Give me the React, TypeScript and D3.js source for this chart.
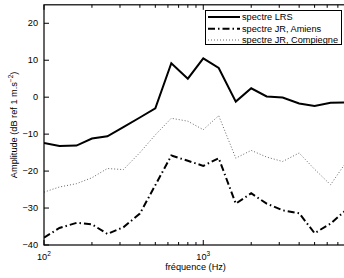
import { useEffect, useRef } from 'react';
import * as d3 from 'd3';

const freqs = [100, 125, 160, 200, 250, 315, 400, 500, 630, 800, 1000, 1250, 1600, 2000, 2500, 3150, 4000, 5000, 6300, 8000];
const lrs = [-12.4, -13.2, -13.1, -11.2, -10.6, -8.1, -5.5, -3.0, 9.2, 5.0, 10.5, 7.9, -1.2, 2.4, 0.2, -0.1, -1.7, -2.4, -1.5, -1.4];
const amiens = [-38.0, -35.4, -34.0, -34.4, -37.0, -35.2, -31.5, -23.8, -15.8, -17.2, -18.6, -16.5, -28.8, -26.0, -28.8, -30.6, -31.4, -36.8, -34.2, -30.3];
const compiegne = [-25.7, -24.3, -23.4, -21.8, -19.3, -19.6, -15.0, -10.2, -5.7, -6.5, -8.8, -5.0, -16.5, -14.4, -16.2, -17.4, -15.1, -19.5, -23.7, -17.2];
const yTicks = [-40, -30, -20, -10, 0, 10, 20];
const xMajor = [100, 1000];
const legendLabels = ['spectre LRS', 'spectre JR, Amiens', 'spectre JR, Compiegne'];

const FONT = '"Liberation Sans", Arial, Helvetica, sans-serif';
const FS = 9.2;

export default function App() {
  const svgRef = useRef<SVGSVGElement>(null);

  useEffect(() => {
    if (!svgRef.current) return;
    const svg = d3.select(svgRef.current);
    svg.selectAll('*').remove();

    const L = 44, T = 4.8, B = 245, R = 347.1;
    const x = d3.scaleLog().domain([100, 8000]).range([L, R]);
    const y = d3.scaleLinear().domain([-40, 25]).range([B, T]);

    svg.append('defs').append('clipPath').attr('id', 'plotClip')
      .append('rect').attr('x', L).attr('y', T).attr('width', R - L).attr('height', B - T);

    const series = [
      { vals: lrs, stroke: '#000', w: 2, dash: null as string | null },
      { vals: amiens, stroke: '#000', w: 2, dash: '7,3,1.5,3' },
      { vals: compiegne, stroke: '#666', w: 1, dash: '1,2' },
    ];

    const line = d3.line<number>().x((_, i) => x(freqs[i])).y((d) => y(d));
    const plot = svg.append('g').attr('clip-path', 'url(#plotClip)');
    series.forEach((s) => {
      plot.append('path').datum(s.vals).attr('d', line)
        .attr('fill', 'none').attr('stroke', s.stroke).attr('stroke-width', s.w)
        .attr('stroke-dasharray', s.dash).attr('stroke-linejoin', 'miter');
    });

    // box
    const ax = svg.append('g').attr('stroke', '#000').attr('stroke-width', 1.2);
    ax.append('rect').attr('x', L).attr('y', T).attr('width', R - L).attr('height', B - T).attr('fill', 'none');

    // x ticks (inward, top and bottom)
    x.ticks().forEach((t) => {
      const len = xMajor.includes(t) ? 5 : 3;
      ax.append('line').attr('x1', x(t)).attr('x2', x(t)).attr('y1', B).attr('y2', B - len).attr('stroke-width', 1);
      ax.append('line').attr('x1', x(t)).attr('x2', x(t)).attr('y1', T).attr('y2', T + len).attr('stroke-width', 1);
    });
    // y ticks
    yTicks.forEach((t) => {
      ax.append('line').attr('x1', L).attr('x2', L + 5).attr('y1', y(t)).attr('y2', y(t)).attr('stroke-width', 1);
    });

    const txt = svg.append('g').attr('font-family', FONT).attr('font-size', FS).attr('fill', '#000');
    yTicks.forEach((t) => {
      txt.append('text').attr('x', L - 6).attr('y', y(t)).attr('dy', '0.35em').attr('text-anchor', 'end')
        .text(t < 0 ? `\u2212${Math.abs(t)}` : `${t}`);
    });
    xMajor.forEach((t) => {
      const tx = txt.append('text').attr('x', x(t) - 7).attr('y', B + 15);
      tx.append('tspan').text('10');
      tx.append('tspan').attr('font-size', 6.5).attr('dy', -4).text(String(Math.round(Math.log10(t))));
    });

    txt.append('text').attr('x', (L + R) / 2).attr('y', B + 25).attr('text-anchor', 'middle').text('fréquence (Hz)');

    const yl = txt.append('text').attr('transform', `translate(17,${(T + B) / 2}) rotate(-90)`).attr('text-anchor', 'middle');
    yl.append('tspan').text('Amplitude (dB ref 1 m.s');
    yl.append('tspan').attr('font-size', 6.5).attr('dy', -4).text('\u22122');
    yl.append('tspan').attr('dy', 4).text(')');

    // legend
    const lg = svg.append('g');
    lg.append('rect').attr('x', 205.5).attr('y', 10.5).attr('width', 136).attr('height', 34)
      .attr('fill', '#fff').attr('stroke', '#000').attr('stroke-width', 1);
    const rows = [17, 28.8, 40];
    series.forEach((s, i) => {
      lg.append('line').attr('x1', 208).attr('x2', 240).attr('y1', rows[i]).attr('y2', rows[i])
        .attr('stroke', s.stroke).attr('stroke-width', s.w).attr('stroke-dasharray', s.dash);
      lg.append('text').attr('x', 242).attr('y', rows[i]).attr('dy', '0.35em')
        .attr('font-family', FONT).attr('font-size', FS).text(legendLabels[i]);
    });
  }, []);

  return (
    <svg ref={svgRef} width={344} height={278}
      style={{ position: 'absolute', left: 0, top: 0, background: '#fff' }} />
  );
}
